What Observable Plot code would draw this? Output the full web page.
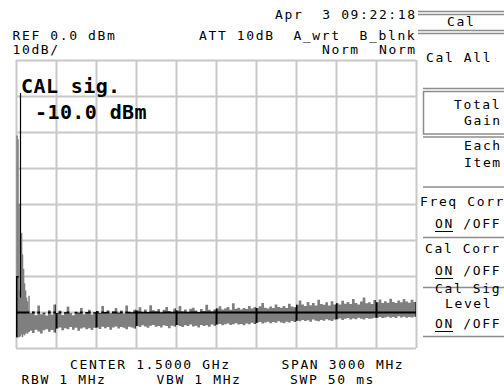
<!DOCTYPE html>
<html><head><meta charset="utf-8">
<script src="https://cdn.jsdelivr.net/npm/d3@7"></script>
<script src="https://cdn.jsdelivr.net/npm/@observablehq/plot@0.6"></script>
<style>
html,body{margin:0;padding:0;background:#fff;}
#wrap{position:relative;width:504px;height:392px;overflow:hidden;background:#fff;}
#chart{position:absolute;left:0;top:0;}
#overlay{position:absolute;left:0;top:0;}
.t{font-family:"DejaVu Sans Mono",monospace;font-size:13px;letter-spacing:1.62px;fill:#000;white-space:pre;}
.big{font-family:"DejaVu Sans Mono",monospace;font-size:20px;font-weight:bold;letter-spacing:0.4px;fill:#000;white-space:pre;}
</style></head><body>
<div id="wrap">
<div id="chart"></div>
<svg id="overlay" width="504" height="392" xmlns="http://www.w3.org/2000/svg">
  <text class="t" x="275" y="18.5">Apr  3 09:22:18</text>
  <text class="t" x="12.5" y="40">REF 0.0 dBm</text>
  <text class="t" x="199" y="40">ATT 10dB  A_wrt  B_blnk</text>
  <text class="t" x="12.5" y="53.5">10dB/</text>
  <text class="t" x="322" y="53.5">Norm</text>
  <text class="t" x="379" y="53.5">Norm</text>
  <text class="big" x="21" y="93">CAL sig.</text>
  <text class="big" x="35" y="119">-10.0 dBm</text>
  <text class="t" x="70" y="368.5">CENTER 1.5000 GHz</text>
  <text class="t" x="281.5" y="368.5">SPAN 3000 MHz</text>
  <text class="t" x="21.5" y="383.5">RBW 1 MHz</text>
  <text class="t" x="156.5" y="383.5">VBW 1 MHz</text>
  <text class="t" x="290" y="383.5">SWP 50 ms</text>
  <g stroke="#8c8c8c" stroke-width="1.5" fill="none">
    <line x1="418" x2="504" y1="11.5" y2="11.5"/>
    <line x1="418" x2="504" y1="14.5" y2="14.5"/>
    <line x1="418" x2="504" y1="30.5" y2="30.5"/>
    <line x1="418" x2="504" y1="33.5" y2="33.5"/>
    <line x1="423" x2="504" y1="88.5" y2="88.5"/>
    <rect x="423.5" y="91.5" width="90" height="42.5"/>
    <line x1="423" x2="504" y1="137" y2="137"/>
    <line x1="423" x2="504" y1="187" y2="187"/>
    <line x1="423" x2="504" y1="237.5" y2="237.5"/>
    <line x1="423" x2="504" y1="287.5" y2="287.5"/>
    <line x1="423" x2="504" y1="336.5" y2="336.5"/>
  </g>
  <text class="t" x="447" y="26">Cal</text>
  <text class="t" x="426" y="62">Cal All</text>
  <text class="t" x="454" y="108.5">Total</text>
  <text class="t" x="464" y="125">Gain</text>
  <text class="t" x="464" y="150">Each</text>
  <text class="t" x="464" y="166.5">Item</text>
  <text class="t" x="420" y="206">Freq Corr</text>
  <text class="t" x="435" y="228">ON /OFF</text>
  <text class="t" x="425" y="253">Cal Corr</text>
  <text class="t" x="435" y="275">ON /OFF</text>
  <text class="t" x="435" y="293">Cal Sig</text>
  <text class="t" x="445" y="308">Level</text>
  <text class="t" x="435" y="328">ON /OFF</text>
  <g stroke="#000" stroke-width="1">
    <line x1="435" x2="453" y1="231.5" y2="231.5"/>
    <line x1="435" x2="453" y1="278.5" y2="278.5"/>
    <line x1="435" x2="453" y1="331.5" y2="331.5"/>
  </g>
</svg>
</div>
<script>
// ---- data ----
const xGridMHz = [0, 300, 600, 900, 1200, 1500, 1800, 2100, 2400, 2700, 3000];
const yGridDbm = [0, -10, -20, -30, -40, -50, -60, -70, -80];
const binMHz = 20;
const upperDbm = [
  -60, -64, -67, -68.5, -69.5,
  -70.4, -69.8, -70.9, -68.2, -70.6, -70.2, -71.0, -69.5, -70.7, -67.9,
  -70.3, -69.6, -70.8, -70.1, -68.5, -70.4, -70.9, -69.9, -70.2, -68.9, -70.6, -70.0, -69.4, -70.7, -70.1,
  -69.7, -70.3, -68.3, -70.0, -69.5, -70.4, -69.8, -68.9, -70.2, -69.6, -70.5, -68.2, -69.9, -70.1, -69.4,
  -69.6, -68.7, -69.9, -69.3, -70.0, -68.1, -69.5, -69.8, -69.2, -70.1, -69.4, -68.6, -69.7, -69.9, -69.0,
  -69.6, -68.3, -69.8, -69.3, -69.9, -69.1, -68.8, -69.6, -70.0, -69.2, -69.7, -68.0, -69.4, -69.8, -69.3,
  -69.0, -68.4, -69.3, -69.0, -68.6, -69.4, -67.6, -69.1, -68.8, -69.3, -68.9, -69.2, -68.3, -69.0, -68.7,
  -68.9, -68.4, -67.5, -68.8, -69.0, -68.5, -68.9, -67.9, -68.6, -68.8, -68.3, -68.9, -67.7, -68.5, -68.7,
  -68.0, -66.8, -67.9, -68.3, -67.2, -68.1, -67.5, -68.2, -66.6, -67.8, -68.0, -67.3, -68.2, -67.0, -67.9,
  -67.6, -67.9, -66.9, -67.7, -67.2, -67.8, -66.4, -67.5, -67.9, -67.1, -66.0, -67.6, -67.3, -67.8, -66.7,
  -67.3, -66.5, -67.5, -67.0, -67.4, -66.3, -67.2, -67.5, -66.8, -67.3, -66.4, -67.1, -67.4, -66.6, -67.2
];
const lowerDbm = [
  -77.0, -76.8, -76.2, -75.9, -75.6,
  -75.2, -75.8, -74.9, -75.4, -76.0, -75.1, -74.8, -75.5, -75.0, -75.7,
  -74.6, -74.3, -75.1, -74.5, -74.8, -74.2, -74.9, -74.4, -75.2, -74.6, -74.3, -74.8, -74.5, -75.0, -74.4,
  -74.3, -74.7, -74.1, -74.5, -74.2, -74.9, -74.3, -74.0, -74.6, -74.2, -74.4, -74.8, -74.1, -74.3, -74.6,
  -73.9, -74.2, -73.7, -74.0, -74.4, -73.8, -73.6, -74.1, -73.9, -74.3, -73.7, -73.9, -74.5, -73.8, -74.0,
  -73.6, -73.9, -74.2, -73.7, -73.9, -73.5, -74.0, -73.8, -74.3, -73.6, -73.9, -73.7, -74.1, -73.5, -73.8,
  -73.5, -73.3, -73.7, -73.4, -73.2, -73.6, -73.4, -73.1, -73.5, -73.3, -73.7, -73.2, -73.4, -73.0, -73.3,
  -73.0, -72.8, -73.2, -72.9, -72.7, -73.1, -72.8, -73.0, -72.6, -72.9, -73.1, -72.7, -72.9, -72.5, -72.8,
  -72.4, -72.6, -72.2, -72.5, -72.3, -72.7, -72.1, -72.4, -72.6, -72.2, -72.4, -72.0, -72.3, -72.5, -72.1,
  -72.0, -71.8, -72.2, -71.9, -71.7, -72.1, -71.8, -72.0, -71.6, -71.9, -72.1, -71.7, -71.9, -71.8, -71.6,
  -71.6, -71.4, -71.7, -71.5, -71.3, -71.6, -71.4, -71.7, -71.2, -71.5, -71.3, -71.6, -71.4, -71.5, -71.3
];
const spikeFreqMHz = [4, 11, 19, 38, 45, 53, 60, 68, 75, 83, 94];
const spikeTopDbm = [-21, -22, -40, -48, -54, -58, -62, -64, -66, -67, -65.5];
const spikeBottomDbm = [-76, -77, -77, -76, -77, -76, -76.5, -76, -75.5, -76, -75.5];
const peakFreqMHz = [30];
const peakTopDbm = [-9.2];
const peakBottomDbm = [-66];

// ---- tables ----
const n = Math.min(upperDbm.length, lowerDbm.length);
const trace = [];
for (let i = 0; i < n; i++) trace.push({f: i * binMHz, hi: upperDbm[i], lo: lowerDbm[i]});
trace.push({f: 3000, hi: upperDbm[n - 1], lo: lowerDbm[n - 1]});
const spikes = spikeFreqMHz.map((f, i) => ({f, hi: spikeTopDbm[i], lo: spikeBottomDbm[i]}));
const peak = peakFreqMHz.map((f, i) => ({f, hi: peakTopDbm[i], lo: peakBottomDbm[i]}));

const gridGray = "#c8c8c8";
const traceGray = "#7f7f7f";

const chart = Plot.plot({
  width: 504, height: 392,
  marginLeft: 16, marginRight: 88, marginTop: 60, marginBottom: 44,
  x: {domain: [0, 3000], axis: null},
  y: {domain: [-80, 0], axis: null},
  style: {background: "transparent"},
  marks: [
    Plot.ruleX(xGridMHz, {stroke: gridGray, strokeWidth: 2}),
    Plot.ruleY(yGridDbm, {stroke: gridGray, strokeWidth: 2}),
    Plot.areaY(trace, {x: "f", y1: "lo", y2: "hi", curve: "step-after", fill: traceGray}),
    Plot.ruleX(spikes, {x: "f", y1: "lo", y2: "hi", stroke: traceGray, strokeWidth: 1.5}),
    Plot.ruleX(peak, {x: "f", y1: "lo", y2: "hi", stroke: "#000", strokeWidth: 1.2}),
    Plot.ruleX(xGridMHz, {stroke: "#000", strokeWidth: 2}),
    Plot.ruleY(yGridDbm, {stroke: "#000", strokeWidth: 2})
  ]
});
document.getElementById("chart").appendChild(chart);

// grid lines turn black where the trace covers them: clip the black copies to the trace area
const svg = chart.tagName.toLowerCase() === "svg" ? chart : chart.querySelector("svg");
const areaPath = svg.querySelector('g[aria-label="area"] path');
if (areaPath) {
  const ns = "http://www.w3.org/2000/svg";
  const defs = document.createElementNS(ns, "defs");
  const cp = document.createElementNS(ns, "clipPath");
  cp.setAttribute("id", "traceClip");
  const p = document.createElementNS(ns, "path");
  p.setAttribute("d", areaPath.getAttribute("d"));
  const areaG = areaPath.closest("g");
  if (areaG && areaG.getAttribute("transform")) p.setAttribute("transform", areaG.getAttribute("transform"));
  cp.appendChild(p);
  defs.appendChild(cp);
  svg.insertBefore(defs, svg.firstChild);
  const rules = svg.querySelectorAll('g[aria-label="rule"]');
  const wrapG = document.createElementNS(ns, "g");
  wrapG.setAttribute("clip-path", "url(#traceClip)");
  svg.appendChild(wrapG);
  wrapG.appendChild(rules[rules.length - 2]);
  wrapG.appendChild(rules[rules.length - 1]);
}
</script>
</body></html>
